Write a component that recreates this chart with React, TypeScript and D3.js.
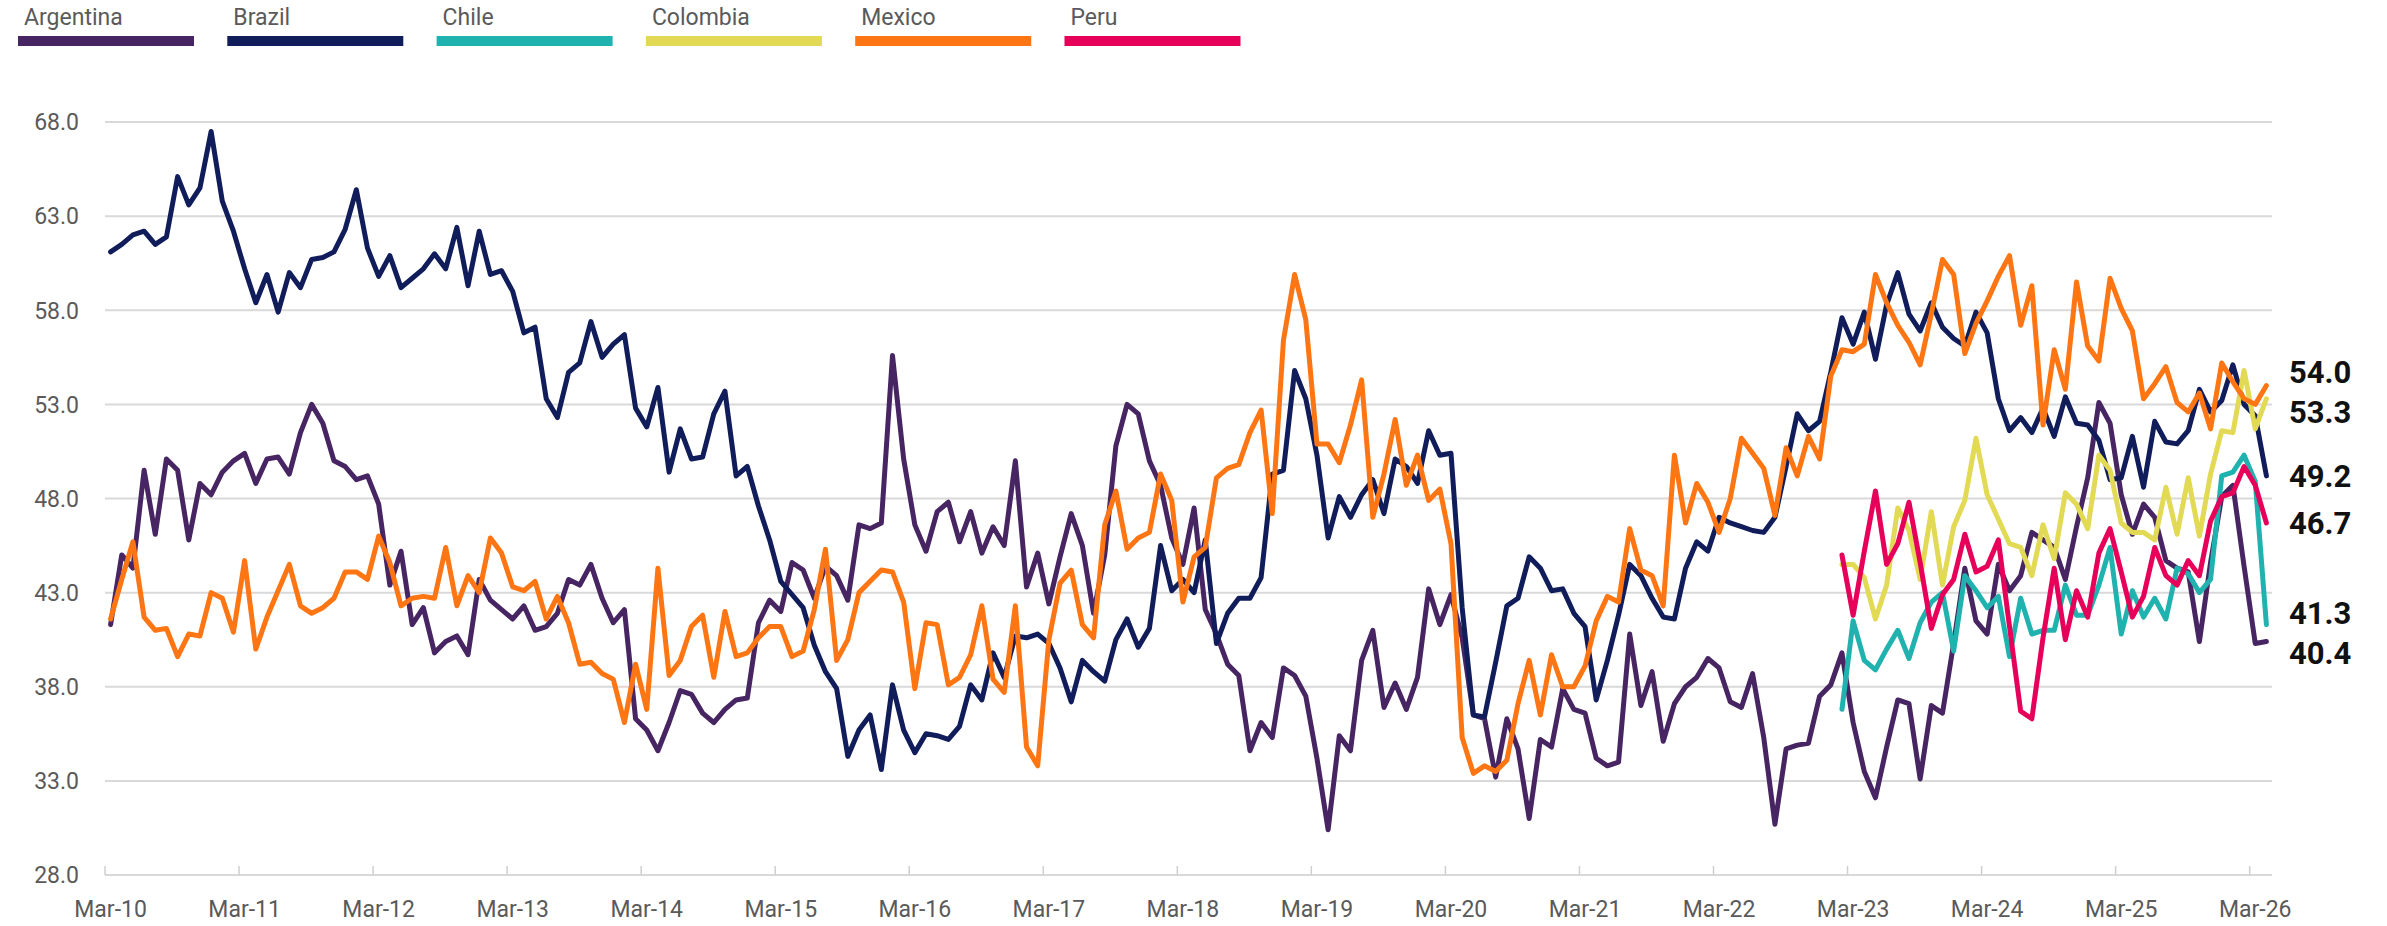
import React from 'react';
import * as d3 from 'd3';

// PMI-style monthly readings, Mar-10 .. Apr-26
const countries = ['Argentina', 'Brazil', 'Chile', 'Colombia', 'Mexico', 'Peru'];
const colors = ['#472563', '#111d5b', '#20b2ae', '#e2da55', '#fe7613', '#e6005a'];

const months = d3.timeMonth.range(new Date(2010, 2, 1), new Date(2026, 4, 1));
const yTicks = [28, 33, 38, 43, 48, 53, 58, 63, 68];
const xTickLabels = ['Mar-10', 'Mar-11', 'Mar-12', 'Mar-13', 'Mar-14', 'Mar-15', 'Mar-16', 'Mar-17', 'Mar-18',
  'Mar-19', 'Mar-20', 'Mar-21', 'Mar-22', 'Mar-23', 'Mar-24', 'Mar-25', 'Mar-26'];

const argentina = [
  41.3, 45.0, 44.3, 49.5, 46.1, 50.1, 49.5, 45.8, 48.8, 48.2, 49.4, 50.0,
  50.4, 48.8, 50.1, 50.2, 49.3, 51.5, 53.0, 52.0, 50.0, 49.7, 49.0, 49.2,
  47.7, 43.4, 45.2, 41.3, 42.2, 39.8, 40.4, 40.7, 39.7, 43.7, 42.6, 42.1,
  41.6, 42.3, 41.0, 41.2, 41.9, 43.7, 43.4, 44.5, 42.7, 41.4, 42.1, 36.3,
  35.7, 34.6, 36.1, 37.8, 37.6, 36.6, 36.1, 36.8, 37.3, 37.4, 41.4, 42.6,
  42.0, 44.6, 44.2, 42.7, 44.4, 43.9, 42.6, 46.6, 46.4, 46.7, 55.6, 50.1,
  46.6, 45.2, 47.3, 47.8, 45.7, 47.3, 45.1, 46.5, 45.5, 50.0, 43.3, 45.1,
  42.4, 44.9, 47.2, 45.5, 41.9, 45.0, 50.8, 53.0, 52.5, 50.0, 48.7, 45.9,
  44.5, 47.5, 42.1, 40.8, 39.2, 38.6, 34.6, 36.1, 35.3, 39.0, 38.6, 37.5,
  34.2, 30.4, 35.4, 34.6, 39.4, 41.0, 36.9, 38.2, 36.8, 38.5, 43.2, 41.3,
  42.9, 40.6, 36.5, 36.3, 33.2, 36.3, 34.7, 31.0, 35.2, 34.8, 37.9, 36.8,
  36.6, 34.2, 33.8, 34.0, 40.8, 37.0, 38.8, 35.1, 37.1, 38.0, 38.5, 39.5,
  39.0, 37.2, 36.9, 38.7, 35.3, 30.7, 34.7, 34.9, 35.0, 37.5, 38.1, 39.8,
  36.1, 33.5, 32.1, 34.8, 37.3, 37.1, 33.1, 37.0, 36.6, 40.3, 44.3, 41.5,
  40.8, 44.5, 43.1, 43.9, 46.2, 45.8, 45.4, 43.7, 46.5, 49.1, 53.1, 52.0,
  48.2, 46.1, 47.7, 47.0, 44.7, 44.3, 44.1, 40.4, 44.6, 48.1, 48.7, 44.4,
  40.3, 40.4,
];

const brazil = [
  61.1, 61.5, 62.0, 62.2, 61.5, 61.9, 65.1, 63.6, 64.5, 67.5, 63.8, 62.2,
  60.2, 58.4, 59.9, 57.9, 60.0, 59.2, 60.7, 60.8, 61.1, 62.3, 64.4, 61.3,
  59.8, 60.9, 59.2, 59.7, 60.2, 61.0, 60.2, 62.4, 59.3, 62.2, 59.9, 60.1,
  59.0, 56.8, 57.1, 53.3, 52.3, 54.7, 55.2, 57.4, 55.5, 56.2, 56.7, 52.8,
  51.8, 53.9, 49.4, 51.7, 50.1, 50.2, 52.5, 53.7, 49.2, 49.7, 47.6, 45.8,
  43.6, 42.9, 42.2, 40.2, 38.8, 37.9, 34.3, 35.7, 36.5, 33.6, 38.1, 35.7,
  34.5, 35.5, 35.4, 35.2, 35.9, 38.1, 37.3, 39.8, 38.5, 40.7, 40.6, 40.8,
  40.3, 39.0, 37.2, 39.4, 38.8, 38.3, 40.5, 41.6, 40.1, 41.1, 45.5, 43.1,
  43.7, 43.0, 45.8, 40.3, 41.9, 42.7, 42.7, 43.8, 49.3, 49.5, 54.8, 53.3,
  50.3, 45.9, 48.1, 47.0, 48.2, 49.0, 47.2, 50.1, 49.7, 48.8, 51.6, 50.3,
  50.4, 42.2, 36.5, 36.4, 39.3, 42.3, 42.7, 44.9, 44.3, 43.1, 43.2, 41.9,
  41.2, 37.3, 39.4, 41.8, 44.5, 43.9, 42.7, 41.7, 41.6, 44.3, 45.7, 45.2,
  47.0, 46.7, 46.5, 46.3, 46.2, 47.0, 49.7, 52.5, 51.6, 52.1, 54.7, 57.6,
  56.2, 57.9, 55.4, 58.3, 60.0, 57.8, 56.9, 58.4, 57.1, 56.5, 56.1, 57.9,
  56.8, 53.3, 51.6, 52.3, 51.5, 52.8, 51.3, 53.4, 52.0, 51.9, 51.1, 49.0,
  49.1, 51.3, 48.6, 52.1, 51.0, 50.9, 51.6, 53.8, 52.6, 53.2, 55.1, 53.0,
  52.4, 49.2,
];

const mexico = [
  41.6, 43.7, 45.7, 41.7, 41.0, 41.1, 39.6, 40.8, 40.7, 43.0, 42.7, 40.9,
  44.7, 40.0, 41.7, 43.1, 44.5, 42.3, 41.9, 42.2, 42.7, 44.1, 44.1, 43.7,
  46.0, 44.6, 42.3, 42.7, 42.8, 42.7, 45.4, 42.3, 43.9, 43.0, 45.9, 45.1,
  43.3, 43.1, 43.6, 41.6, 42.8, 41.4, 39.2, 39.3, 38.7, 38.4, 36.1, 39.2,
  36.8, 44.3, 38.6, 39.4, 41.2, 41.8, 38.5, 42.0, 39.6, 39.8, 40.6, 41.2,
  41.2, 39.6, 39.9, 42.1, 45.3, 39.4, 40.5, 43.0, 43.6, 44.2, 44.1, 42.5,
  37.9, 41.4, 41.3, 38.1, 38.5, 39.7, 42.3, 38.4, 37.7, 42.3, 34.8, 33.8,
  40.5, 43.5, 44.2, 41.3, 40.6, 46.6, 48.4, 45.3, 45.9, 46.2, 49.3, 47.9,
  42.5, 44.9, 45.4, 49.1, 49.6, 49.8, 51.5, 52.7, 47.2, 56.4, 59.9, 57.5,
  50.9, 50.9, 49.9, 51.9, 54.3, 47.0, 49.3, 52.2, 48.7, 50.3, 47.9, 48.5,
  45.6, 35.3, 33.4, 33.8, 33.5, 34.1, 37.1, 39.4, 36.5, 39.7, 38.0, 38.0,
  39.1, 41.5, 42.8, 42.5, 46.4, 44.2, 43.9, 42.3, 50.3, 46.7, 48.8, 47.8,
  46.2, 48.0, 51.2, 50.4, 49.6, 47.1, 50.7, 49.2, 51.3, 50.1, 54.5, 55.9,
  55.8, 56.2, 59.9, 58.4, 57.2, 56.3, 55.1, 57.8, 60.7, 59.9, 55.7, 57.3,
  58.5, 59.8, 60.9, 57.2, 59.3, 51.9, 55.9, 53.8, 59.5, 56.1, 55.3, 59.7,
  58.1, 56.9, 53.3, 54.1, 55.0, 53.1, 52.6, 53.6, 51.7, 55.2, 54.2, 53.3,
  53.0, 54.0,
];

// these three start in Feb-23
const chile = [
  36.8, 41.5, 39.4, 38.9, 40.0, 41.0, 39.5, 41.4, 42.5, 43.0, 39.9, 43.9,
  43.1, 42.2, 42.8, 39.6, 42.7, 40.8, 41.0, 41.0, 43.4, 41.8, 41.8, 43.4,
  45.4, 40.8, 43.1, 41.7, 42.7, 41.6, 44.3, 44.0, 43.0, 43.7, 49.2, 49.4,
  50.3, 48.9, 41.3,
];

const colombia = [
  44.5, 44.5, 43.8, 41.6, 43.4, 47.5, 46.3, 43.7, 47.3, 43.4, 46.5, 47.9,
  51.2, 48.2, 46.9, 45.6, 45.4, 43.9, 46.6, 44.8, 48.3, 47.7, 46.4, 50.3,
  49.5, 46.7, 46.2, 46.2, 45.8, 48.6, 46.1, 49.1, 46.0, 49.3, 51.6, 51.5,
  54.8, 51.7, 53.3,
];

const peru = [
  45.0, 41.8, 45.2, 48.4, 44.5, 45.6, 47.8, 44.6, 41.1, 42.9, 43.7, 46.1,
  44.1, 44.4, 45.8, 41.2, 36.7, 36.3, 40.6, 44.3, 40.5, 43.1, 41.7, 45.1,
  46.4, 44.1, 41.7, 42.8, 45.4, 43.9, 43.4, 44.7, 43.9, 46.8, 48.1, 48.3,
  49.7, 48.7, 46.7,
];

const seriesValues = [argentina, brazil, chile, colombia, mexico, peru];

const W = 2387;
const H = 926;
const FONT = 'Roboto, "Noto Sans", sans-serif';

export default function App() {
  const x = d3.scaleBand<number>()
    .domain(d3.range(months.length))
    .range([105, 2272])
    .padding(0);
  const y = d3.scaleLinear().domain([28, 68]).range([875, 122]);
  const cx = (i: number) => (x(i) as number) + x.bandwidth() / 2;

  // align every series to the end of the month list
  const series = seriesValues.map((vals, k) => {
    const offset = months.length - vals.length;
    return {
      name: countries[k],
      color: colors[k],
      points: vals.map((v, j) => ({ i: j + offset, v })),
    };
  });

  const line = d3.line<{ i: number; v: number }>()
    .x(d => cx(d.i))
    .y(d => y(d.v));

  // end labels, pushed apart when they collide
  const gap = 40;
  const labels = series
    .map(s => {
      const last = s.points[s.points.length - 1].v;
      return { v: last, y: y(last) };
    })
    .sort((a, b) => a.y - b.y);
  for (let it = 0; it < 60; it++) {
    for (let j = 1; j < labels.length; j++) {
      const diff = labels[j].y - labels[j - 1].y;
      if (diff < gap) {
        const d = (gap - diff) / 2;
        labels[j - 1].y -= d;
        labels[j].y += d;
      }
    }
  }

  const fmt = d3.format('.1f');
  const yearStarts = d3.range(0, months.length, 12);

  return (
    <svg width={W} height={H} style={{ position: 'absolute', left: 0, top: 0, background: '#fff', display: 'block' }}
      fontFamily={FONT}>
      {/* legend */}
      {countries.map((c, k) => {
        const lx = 18 + k * 209.3;
        return (
          <g key={c}>
            <text x={lx + 6} y={25} fontSize={23} fill="#5a5a5a">{c}</text>
            <rect x={lx} y={36} width={176} height={10} fill={colors[k]} />
          </g>
        );
      })}

      {/* gridlines + y labels */}
      {yTicks.map(t => (
        <g key={t}>
          <line x1={105} x2={2272} y1={y(t)} y2={y(t)} stroke="#d9d9d9" strokeWidth={2} />
          <text x={79} y={y(t)} dy="0.36em" textAnchor="end" fontSize={23} fill="#5a5a5a">{fmt(t)}</text>
        </g>
      ))}

      {/* x ticks + labels */}
      {yearStarts.map((i, k) => (
        <g key={i}>
          <line x1={x(i)} x2={x(i)} y1={866} y2={875} stroke="#cfcfcf" strokeWidth={1.5} />
          <text x={cx(i)} y={917} textAnchor="middle" fontSize={23} fill="#5a5a5a">{xTickLabels[k]}</text>
        </g>
      ))}

      {/* lines */}
      {series.map(s => (
        <path key={s.name} d={line(s.points) || ''} fill="none" stroke={s.color}
          strokeWidth={5} strokeLinejoin="round" strokeLinecap="round" />
      ))}

      {/* end values */}
      {labels.map((l, k) => (
        <text key={k} x={2289} y={l.y} dy="0.36em" fontSize={31} fontWeight={700} fill="#111">{fmt(l.v)}</text>
      ))}
    </svg>
  );
}
